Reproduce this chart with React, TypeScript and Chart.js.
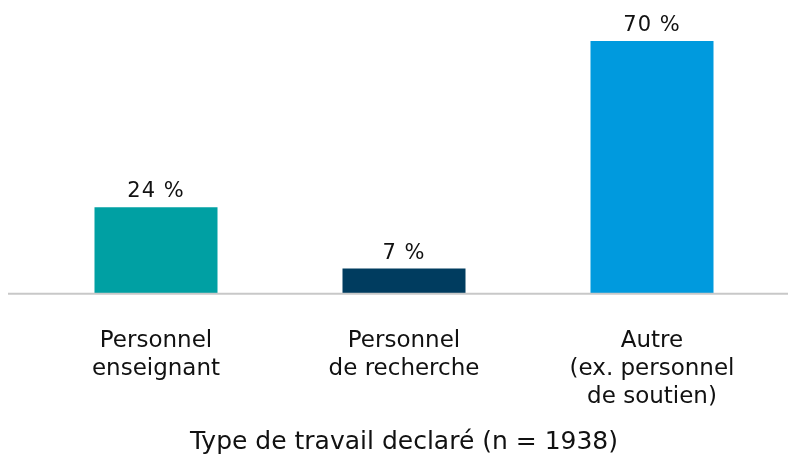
import React, { useEffect, useRef } from "react";
import { Chart, registerables } from "chart.js";

Chart.register(...registerables);

const categories: string[][] = [
  ["Personnel", "enseignant"],
  ["Personnel", "de recherche"],
  ["Autre", "(ex. personnel", "de soutien)"],
];
const values: number[] = [24, 7, 70];
const barColors: string[] = ["#00A0A3", "#003C5F", "#009ADE"];
const axisTitle = "Type de travail declaré (n = 1938)";

const FONT = "'DejaVu Sans', sans-serif";

const valueLabels = {
  id: "valueLabels",
  afterDatasetsDraw(chart: any) {
    const { ctx } = chart;
    const meta = chart.getDatasetMeta(0);
    ctx.save();
    ctx.font = `21px ${FONT}`;
    (ctx as any).letterSpacing = "1px";
    ctx.fillStyle = "#111111";
    ctx.textAlign = "center";
    ctx.textBaseline = "alphabetic";
    meta.data.forEach((bar: any, i: number) => {
      ctx.fillText(`${values[i]} %`, bar.x, bar.y - 10);
    });
    ctx.restore();
  },
};

const baseline = {
  id: "baseline",
  afterDatasetsDraw(chart: any) {
    const { ctx } = chart;
    const y = chart.scales.y.getPixelForValue(0);
    ctx.save();
    ctx.strokeStyle = "#C8C8C8";
    ctx.lineWidth = 2;
    ctx.beginPath();
    ctx.moveTo(8, y);
    ctx.lineTo(chart.width, y);
    ctx.stroke();
    ctx.restore();
  },
};

export default function App() {
  const ref = useRef<HTMLCanvasElement | null>(null);
  useEffect(() => {
    const prevMargin = document.body.style.margin;
    document.body.style.margin = "0";
    if (!ref.current) return;
    const chart = new Chart(ref.current, {
      type: "bar",
      data: {
        labels: categories,
        datasets: [
          {
            data: values,
            backgroundColor: barColors,
            categoryPercentage: 1,
            barPercentage: 0.496,
          },
        ],
      },
      options: {
        animation: false,
        responsive: true,
        maintainAspectRatio: false,
        layout: { padding: { top: 41, left: 32, right: 12, bottom: 0 } },
        plugins: {
          legend: { display: false },
          tooltip: { enabled: false },
        },
        scales: {
          y: { display: false, min: 0, max: 70 },
          x: {
            grid: { display: false },
            border: { display: false },
            ticks: {
              color: "#111111",
              font: { family: FONT, size: 23, lineHeight: 1.22 },
              padding: 25,
              maxRotation: 0,
            },
            title: {
              display: true,
              text: axisTitle,
              color: "#111111",
              font: { family: FONT, size: 25, lineHeight: 1.2 },
              padding: { top: -9, bottom: 0 },
            },
          },
        },
      },
      plugins: [baseline, valueLabels],
    });
    return () => {
      chart.destroy();
      document.body.style.margin = prevMargin;
    };
  }, []);
  return (
    <div style={{ width: 788, height: 457, overflow: "hidden" }}>
      <canvas ref={ref} />
    </div>
  );
}
